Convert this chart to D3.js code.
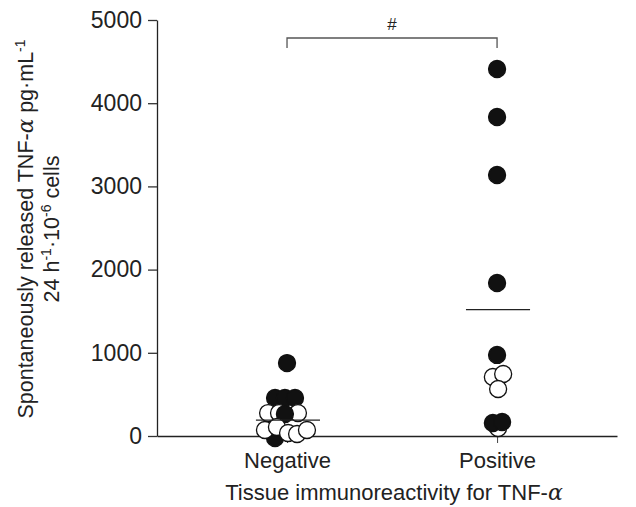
<!DOCTYPE html>
<html>
<head>
<meta charset="utf-8">
<script src="https://cdn.jsdelivr.net/npm/d3@7"></script>
<style>
    html, body { margin: 0; padding: 0; background: #fff; }
    svg text { font-family: "Liberation Sans", Arial, sans-serif; fill: #222; }
</style>
</head>
<body>
<div id="chart"></div>
<script>
(function () {
    "use strict";

    // groups on the x axis (position 1 and 2)
    var cCategories = ["Negative", "Positive"];
    var cYTicks = [0, 1000, 2000, 3000, 4000, 5000];

    // points: group position (with dodge), value, filled?
    var cNegX = [1.0, 0.943, 0.99, 1.038, 0.91, 0.962, 1.052, 0.99, 0.943, 0.895, 0.952, 1.005, 1.048, 1.095];
    var cNegY = [877, 457, 457, 457, 276, 276, 276, 264, -24, 72, 108, 36, 24, 72];
    var cNegFilled = [1, 1, 1, 1, 0, 0, 0, 1, 1, 0, 0, 0, 0, 0];

    var cPosX = [2.0, 2.0, 2.0, 2.0, 2.0, 1.98, 2.029, 2.005, 2.005, 1.98, 2.024];
    var cPosY = [4411, 3834, 3137, 1839, 974, 709, 745, 565, 96, 156, 168];
    var cPosFilled = [1, 1, 1, 1, 1, 0, 0, 0, 0, 1, 1];

    // group means (horizontal bars)
    var cMeans = [190, 1520];

    var vWidth = 636, vHeight = 507;

    var svg = d3.select("#chart")
        .append("svg")
        .attr("width", vWidth)
        .attr("height", vHeight);

    var vX = d3.scaleLinear()
        .domain([0.381, 2.571])
        .range([157, 617]);
    var vY = d3.scaleLinear()
        .domain([0, 5000])
        .range([436, 20]);

    // y axis
    var vYAxis = svg.append("g")
        .attr("transform", "translate(" + vX(0.381) + ",0)")
        .call(d3.axisLeft(vY).tickValues(cYTicks).tickFormat(d3.format("d"))
            .tickSize(9).tickPadding(6).tickSizeOuter(0));
    vYAxis.select(".domain").attr("stroke", "#222").attr("stroke-width", 1.3);
    vYAxis.selectAll(".tick line").attr("stroke", "#333").attr("stroke-width", 1.3);
    vYAxis.selectAll(".tick text")
        .style("font-size", "23px")
        .attr("fill", "#222");

    // x axis
    var vXAxis = svg.append("g")
        .attr("transform", "translate(0," + vY(0) + ")")
        .call(d3.axisBottom(vX).tickValues([1, 2]).tickSize(7).tickPadding(9).tickSizeOuter(0)
            .tickFormat(function (d) { return cCategories[d - 1]; }));
    vXAxis.select(".domain").attr("stroke", "#222").attr("stroke-width", 1.3);
    vXAxis.selectAll(".tick line").attr("stroke", "#444").attr("stroke-width", 1);
    vXAxis.selectAll(".tick text")
        .style("font-size", "22px")
        .attr("fill", "#222");

    // points
    function drawPoints(aX, aY, aFilled) {
        aY.forEach(function (v, i) {
            svg.append("circle")
                .attr("cx", vX(aX[i]))
                .attr("cy", vY(v))
                .attr("r", 8.5)
                .attr("fill", aFilled[i] ? "#111" : "#fff")
                .attr("stroke", "#111")
                .attr("stroke-width", 1.3);
        });
    }
    // drawing order matters where circles overlap
    drawPoints(cNegX, cNegY, cNegFilled);
    drawPoints(cPosX, cPosY, cPosFilled);

    // mean bars
    cMeans.forEach(function (m, i) {
        svg.append("line")
            .attr("x1", vX(i + 1 - 0.148))
            .attr("x2", vX(i + 1 + 0.157))
            .attr("y1", vY(m))
            .attr("y2", vY(m))
            .attr("stroke", "#222")
            .attr("stroke-width", 1.2);
    });

    // significance bracket
    var vBy = 38;
    svg.append("path")
        .attr("d", "M" + vX(1) + "," + (vBy + 10) + "V" + vBy + "H" + vX(2) + "V" + (vBy + 10))
        .attr("fill", "none")
        .attr("stroke", "#555")
        .attr("stroke-width", 1.3);
    svg.append("text")
        .attr("x", (vX(1) + vX(2)) / 2)
        .attr("y", 30)
        .attr("text-anchor", "middle")
        .style("font-size", "17px")
        .text("#");

    // x axis title
    var vXTitle = svg.append("text")
        .attr("x", 394)
        .attr("y", 500)
        .attr("text-anchor", "middle")
        .style("font-size", "22px");
    vXTitle.append("tspan").text("Tissue immunoreactivity for TNF-");
    vXTitle.append("tspan").style("font-family", "'DejaVu Serif', serif").style("font-style", "italic").text("α");

    // y axis title, two lines
    var vYTitle = svg.append("g")
        .attr("transform", "translate(0,229) rotate(-90)");
    var vL1 = vYTitle.append("text")
        .attr("x", 0)
        .attr("y", 33)
        .attr("text-anchor", "middle")
        .style("font-size", "21.5px");
    vL1.append("tspan").text("Spontaneously released TNF-");
    vL1.append("tspan").style("font-family", "'DejaVu Serif', serif").style("font-style", "italic").text("α");
    vL1.append("tspan").text(" pg·mL");
    vL1.append("tspan").attr("dy", -8).style("font-size", "14px").text("-1");

    var vL2 = vYTitle.append("text")
        .attr("x", 0)
        .attr("y", 59)
        .attr("text-anchor", "middle")
        .style("font-size", "21.5px");
    vL2.append("tspan").text("24 h");
    vL2.append("tspan").attr("dy", -8).style("font-size", "14px").text("-1");
    vL2.append("tspan").attr("dy", 8).text("·10");
    vL2.append("tspan").attr("dy", -8).style("font-size", "14px").text("-6");
    vL2.append("tspan").attr("dy", 8).text(" cells");
})();
</script>
</body>
</html>
